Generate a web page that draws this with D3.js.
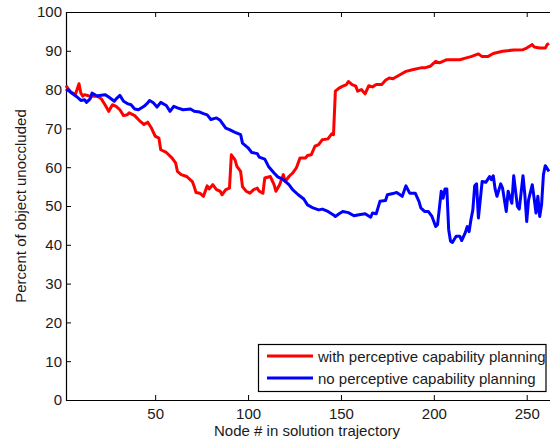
<!DOCTYPE html>
<html>
<head>
<meta charset="utf-8">
<script src="https://cdn.jsdelivr.net/npm/d3@7"></script>
<style>
  html, body { margin: 0; padding: 0; background: #fff; }
  svg { display: block; font-family: "Liberation Sans", Arial, sans-serif; }
</style>
</head>
<body>
<svg id="chart" width="550" height="440"></svg>
<script>
const seriesNames = ["with perceptive capability planning", "no perceptive capability planning"];
const seriesColors = ["#ff0000", "#0000ff"];
const xTicks = [50, 100, 150, 200, 250];
const yTicks = [0, 10, 20, 30, 40, 50, 60, 70, 80, 90, 100];
const xLabel = "Node # in solution trajectory";
const yLabel = "Percent of object unoccluded";

const redNodes = [2,4,7,9,10,11,12,15,19,21,23,25,27,29,31,33,35,36,39,42,44,46,48,50,52,53,56,59,61,62,64,67,70,71,72,74,76,78,79,81,83,85,86,88,90,91,93,94,96,97,99,101,103,105,106,108,109,112,114,115,117,119,120,122,124,126,128,131,132,134,136,138,140,143,145,146,147,149,151,153,154,156,158,159,161,163,165,167,169,172,174,176,178,182,185,189,193,195,198,201,203,207,214,217,220,224,226,229,232,237,243,248,250,253,254,257,260,261,262];
const redValues = [81.0,79.6,78.7,81.5,79.1,78.3,78.7,78.3,78.3,77.6,76.1,74.4,76.1,75.7,74.8,73.3,73.5,74.0,73.3,71.8,71.0,71.6,70.1,68.0,67.5,64.5,63.8,62.4,61.1,58.9,58.1,57.6,56.3,55.0,53.5,53.3,52.5,55.2,54.4,55.5,54.2,53.8,52.9,54.2,54.6,63.2,61.9,60.2,58.9,55.0,53.8,53.3,54.2,54.6,53.8,53.3,57.2,57.6,55.5,53.8,55.5,58.1,56.3,57.6,58.5,59.8,62.4,62.4,63.0,63.2,65.4,65.8,67.1,67.3,68.6,68.4,79.6,80.4,80.9,81.3,82.1,81.3,80.9,79.6,80.0,78.9,81.0,80.7,81.3,81.3,82.4,83.0,82.8,83.9,84.7,85.2,85.6,85.6,86.0,87.3,86.9,87.7,87.7,88.1,88.5,89.2,88.5,88.5,89.3,89.9,90.2,90.3,90.7,91.6,91.0,90.7,90.7,91.6,91.9];

const blueNodes = [2,3,5,8,10,12,13,15,16,19,20,23,25,28,29,31,33,35,37,39,41,44,46,47,49,51,53,56,58,60,62,65,69,71,74,76,78,80,83,85,88,90,93,96,97,100,102,105,106,109,111,114,116,119,122,124,127,130,132,135,138,140,143,146,147,149,151,154,157,159,163,166,167,169,171,174,175,178,180,183,185,187,190,192,193,195,197,199,201,202,204,205,206,207,208,209,210,212,214,215,217,218,219,220,221,222,223,224,225,226,228,230,231,232,233,234,236,237,239,240,242,243,245,246,248,249,250,251,253,254,255,256,257,258,259,260,262];
const blueValues = [79.6,80.0,79.1,78.1,77.2,77.4,76.7,77.6,79.1,78.3,78.5,78.7,78.1,77.0,77.6,78.5,77.0,76.4,76.1,75.0,74.8,75.7,76.6,77.2,76.6,75.5,76.7,75.9,74.4,75.7,75.3,74.8,75.0,74.4,74.2,73.8,73.5,72.3,72.7,72.1,70.1,69.7,69.0,68.4,66.2,65.0,63.8,63.5,62.6,62.1,60.2,58.5,57.5,56.8,55.5,54.2,52.9,51.8,50.3,49.5,49.0,49.2,48.6,47.7,47.3,48.0,48.6,48.3,47.5,47.7,48.0,47.1,48.2,48.0,51.2,51.4,52.9,53.2,53.5,52.5,55.2,53.3,53.3,51.2,49.5,48.6,48.6,47.3,44.7,45.2,53.8,52.0,54.4,54.4,43.9,40.9,40.6,42.2,42.2,41.1,43.2,44.7,43.4,46.5,49.0,55.2,55.7,46.9,51.6,56.3,56.1,57.6,56.8,57.8,54.4,52.5,55.7,54.6,48.6,53.8,50.7,57.8,49.9,49.2,57.8,52.9,46.0,51.6,55.5,52.0,48.2,52.5,47.3,50.3,58.1,60.4,58.9];

const svg = d3.select("#chart");
const L = 66, R = 549, T = 12, B = 400;
const x = d3.scaleLinear().domain([2, 262]).range([L, R]);
const y = d3.scaleLinear().domain([0, 100]).range([B, T]);
const fontSize = 15;
const textColor = "#1a1a1a";

// bottom axis (inward ticks)
const gx = svg.append("g").attr("transform", `translate(0,${B})`)
  .call(d3.axisBottom(x).tickValues(xTicks).tickFormat(d3.format("d")).tickSizeInner(-5).tickSizeOuter(0).tickPadding(8));
gx.select(".domain").remove();
gx.selectAll("text").attr("font-size", fontSize).attr("fill", textColor).attr("font-family", "Liberation Sans, Arial, sans-serif");
gx.selectAll("line").attr("stroke", "#000");

// top axis ticks
const gxt = svg.append("g").attr("transform", `translate(0,${T})`)
  .call(d3.axisTop(x).tickValues(xTicks).tickFormat("").tickSizeInner(-5).tickSizeOuter(0));
gxt.select(".domain").remove();
gxt.selectAll("line").attr("stroke", "#000");

// left axis
const gy = svg.append("g").attr("transform", `translate(${L},0)`)
  .call(d3.axisLeft(y).tickValues(yTicks).tickFormat(d3.format("d")).tickSizeInner(-5).tickSizeOuter(0).tickPadding(4));
gy.select(".domain").remove();
gy.selectAll("text").attr("font-size", fontSize).attr("fill", textColor).attr("font-family", "Liberation Sans, Arial, sans-serif");
gy.selectAll("line").attr("stroke", "#000");

// frame
svg.append("path")
  .attr("d", `M${L + 0.5},${T + 0.5}H${551}M${L + 0.5},${T + 0.5}V${B + 0.5}H${551}`)
  .attr("fill", "none").attr("stroke", "#000").attr("stroke-width", 1.2);

// lines
const line = d3.line().x(d => x(d[0])).y(d => y(d[1]));
const redData = redNodes.map((n, i) => [n, redValues[i]]);
const blueData = blueNodes.map((n, i) => [n, blueValues[i]]);
[redData, blueData].forEach((data, i) => {
  svg.append("path").datum(data)
    .attr("d", line)
    .attr("fill", "none")
    .attr("stroke", seriesColors[i])
    .attr("stroke-width", 3)
    .attr("stroke-linejoin", "round");
});

// axis titles
svg.append("text")
  .attr("x", 307).attr("y", 436)
  .attr("text-anchor", "middle")
  .attr("font-size", fontSize).attr("fill", textColor)
  .text(xLabel);
svg.append("text")
  .attr("transform", `translate(26,${(T + B) / 2}) rotate(-90)`)
  .attr("text-anchor", "middle")
  .attr("font-size", fontSize).attr("fill", textColor)
  .text(yLabel);

// legend
const lg = svg.append("g");
lg.append("rect")
  .attr("x", 258.5).attr("y", 344.5).attr("width", 287.5).attr("height", 47)
  .attr("fill", "#fff").attr("stroke", "#000").attr("stroke-width", 1.2);
seriesNames.forEach((name, i) => {
  const yy = 356 + i * 22;
  lg.append("line").attr("x1", 267).attr("x2", 313).attr("y1", yy).attr("y2", yy)
    .attr("stroke", seriesColors[i]).attr("stroke-width", 3);
  lg.append("text").attr("x", 318).attr("y", yy + 6)
    .attr("font-size", fontSize).attr("fill", textColor)
    .text(name);
});
</script>
</body>
</html>
